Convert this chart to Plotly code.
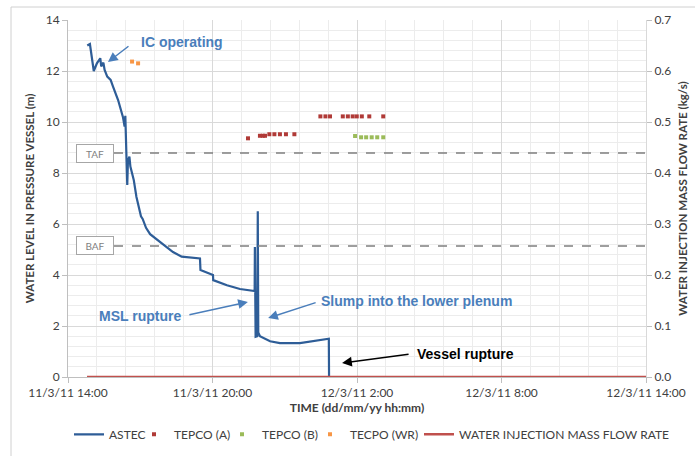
import plotly.graph_objects as go
import pandas as pd

BASE = pd.Timestamp("2011-03-11 14:00")

# ASTEC water level (hours after 11/3/11 14:00, m)
astec_h = [0.80, 0.91, 1.07, 1.20, 1.34, 1.38, 1.47, 1.52, 1.63, 1.77, 1.87, 2.08, 2.28, 2.35, 2.38,
           2.40, 2.44, 2.46, 2.49, 2.55, 2.59, 2.73, 2.84, 2.99, 3.03, 3.10, 3.24, 3.41, 3.61, 3.95,
           4.15, 4.36, 4.72, 5.48, 5.50, 6.02, 6.03, 6.60, 7.14, 7.64, 7.75, 7.76, 7.79, 7.86, 7.88,
           7.90, 7.97, 8.39, 8.80, 9.63, 10.47, 10.83, 10.84]
astec_lvl = [13.0, 13.06, 12.0, 12.3, 12.5, 12.18, 12.33, 12.04, 11.78, 11.65, 11.39, 10.86, 10.2, 9.82, 10.24,
             9.55, 8.77, 7.53, 8.5, 8.64, 8.25, 7.73, 7.07, 6.45, 6.3, 6.2, 5.85, 5.6, 5.45, 5.2,
             5.05, 4.9, 4.72, 4.65, 4.2, 4.0, 3.8, 3.6, 3.45, 3.37, 3.37, 5.1, 1.58, 1.6, 6.5,
             1.75, 1.6, 1.4, 1.33, 1.33, 1.45, 1.5, 0.0]

tepco_a_h = [7.475, 7.97, 8.09, 8.18, 8.36, 8.57, 8.80, 9.05, 9.40,
             10.48, 10.69, 10.88, 11.41, 11.62, 11.82, 11.99, 12.20, 12.51, 13.09]
tepco_a_lvl = [9.36, 9.46, 9.46, 9.46, 9.52, 9.52, 9.52, 9.52, 9.52,
               10.22, 10.22, 10.22, 10.22, 10.22, 10.22, 10.22, 10.22, 10.22, 10.22]

tepco_b_h = [11.92, 12.17, 12.38, 12.61, 12.84, 13.09]
tepco_b_lvl = [9.45, 9.40, 9.40, 9.40, 9.40, 9.40]

tepco_wr_h = [2.66, 2.91]
tepco_wr_lvl = [12.37, 12.30]

inj_h = [0.79, 24.0]
inj_flow = [0.0, 0.0]

TAF = 8.78
BAF = 5.14

x_range_h = [0, 24]
tick_dtick_h = 6
minor_dtick_h = 1.2

def t(hours):
    return [BASE + pd.Timedelta(hours=h) for h in hours]

BLUE = "#2e5d97"
ANN_BLUE = "#4a7ebb"
FONT = "Lato, Liberation Sans, Arial"
TXT = "#404040"

fig = go.Figure()
fig.add_trace(go.Scatter(x=t(astec_h), y=astec_lvl, mode="lines", name="ASTEC", legendwidth=20,
                         line=dict(color=BLUE, width=2.2)))
fig.add_trace(go.Scatter(x=t(tepco_a_h), y=tepco_a_lvl, mode="markers", name="TEPCO (A)", legendwidth=43,
                         marker=dict(symbol="square", size=4, color="#b03a37")))
fig.add_trace(go.Scatter(x=t(tepco_b_h), y=tepco_b_lvl, mode="markers", name="TEPCO (B)", legendwidth=43,
                         marker=dict(symbol="square", size=4, color="#9bbb59")))
fig.add_trace(go.Scatter(x=t(tepco_wr_h), y=tepco_wr_lvl, mode="markers", name="TECPO (WR)", legendwidth=64,
                         marker=dict(symbol="square", size=4, color="#f79646")))
fig.add_trace(go.Scatter(x=t(inj_h), y=inj_flow, mode="lines", name="WATER INJECTION MASS FLOW RATE",
                         legendwidth=212, line=dict(color="#c0504d", width=2.5), yaxis="y2"))

x0 = (114 - 68) / 578
for lvl, lab in [(TAF, "TAF"), (BAF, "BAF")]:
    fig.add_shape(type="line", xref="paper", yref="y", x0=x0, x1=1, y0=lvl, y1=lvl,
                  line=dict(color="#7f7f7f", width=1.5, dash="dash"))
    fig.add_annotation(xref="paper", yref="y", x=(94.5 - 68) / 578, y=lvl, text=lab,
                       xanchor="center", yanchor="middle",
                       showarrow=False, width=34, height=15, borderpad=1, borderwidth=1,
                       bordercolor="#a6a6a6", bgcolor="white",
                       font=dict(family=FONT, size=10, color="#7f7f7f"))

# outer chart border
fig.add_shape(type="rect", xref="paper", yref="paper",
              x0=(11 - 68) / 578, x1=(700 - 68) / 578, y0=(377 - 470) / 357, y1=(377 - 7) / 357,
              line=dict(color="#d0d0d0", width=1), layer="below")

def arrow(h, lvl, ax, ay, color):
    fig.add_annotation(x=BASE + pd.Timedelta(hours=h), y=lvl, ax=ax, ay=ay, text="",
                       showarrow=True, arrowhead=2, arrowsize=1.3, arrowwidth=1.5,
                       arrowcolor=color)

def label(h, lvl, text, color, bold=True):
    fig.add_annotation(x=BASE + pd.Timedelta(hours=h), y=lvl, text=(f"<b>{text}</b>" if bold else text),
                       showarrow=False, font=dict(family="Liberation Sans, Arial", size=14, color=color))

arrow(1.66, 12.35, 22, -17, ANN_BLUE)
label(4.73, 13.14, "IC operating", ANN_BLUE)
arrow(7.47, 2.94, -60, 13, ANN_BLUE)
label(2.99, 2.39, "MSL rupture", ANN_BLUE)
arrow(8.31, 2.31, 49, -16, ANN_BLUE)
label(14.45, 2.98, "Slump into the lower plenum", ANN_BLUE)
arrow(11.38, 0.55, 68, -9, "black")
label(16.49, 0.90, "Vessel rupture", "black")

fig.update_layout(
    width=695, height=456,
    margin=dict(l=68, r=49, t=20, b=79, autoexpand=False),
    paper_bgcolor="white", plot_bgcolor="white",
    font=dict(family=FONT, size=12, color=TXT),
    showlegend=True,
    legend=dict(orientation="h", x=(676 - 68) / 578, xanchor="right", y=-0.12, yanchor="top",
                font=dict(family=FONT, size=12, color=TXT), itemwidth=30,
                tracegroupgap=0, bgcolor="rgba(0,0,0,0)"),
    xaxis=dict(
        type="date", automargin=False,
        range=[BASE + pd.Timedelta(hours=x_range_h[0]), BASE + pd.Timedelta(hours=x_range_h[1])],
        tick0=BASE, dtick=tick_dtick_h * 3600 * 1000,
        tickformat="%-d/%-m/%y %-H:%M",
        showgrid=True, gridcolor="#d9d9d9", gridwidth=1,
        minor=dict(dtick=minor_dtick_h * 3600 * 1000, tick0=BASE, showgrid=True, gridcolor="#ececec"),
        ticks="outside", ticklen=5, tickcolor="#bfbfbf",
        showline=True, linecolor="#bfbfbf", zeroline=False,
        title=dict(text="<b>TIME (dd/mm/yy hh:mm)</b>", font=dict(size=12, color=TXT), standoff=4),
        tickfont=dict(size=12, color=TXT),
    ),
    yaxis=dict(
        range=[0, 14], dtick=2, tick0=0, automargin=False,
        showgrid=True, gridcolor="#d9d9d9", gridwidth=1,
        minor=dict(dtick=0.4, showgrid=True, gridcolor="#ececec"),
        ticks="outside", ticklen=5, tickcolor="#bfbfbf",
        showline=True, linecolor="#bfbfbf", zeroline=False,
        title=dict(text="<b>WATER LEVEL IN PRESSURE VESSEL (m)</b>", font=dict(size=11.5, color=TXT), standoff=8),
        tickfont=dict(size=12, color=TXT),
    ),
    yaxis2=dict(
        overlaying="y", side="right", range=[0, 0.7], dtick=0.1, tick0=0, tickformat=".1f",
        automargin=False,
        showgrid=False, ticks="outside", ticklen=5, tickcolor="#bfbfbf",
        showline=True, linecolor="#d9d9d9", zeroline=False,
        title=dict(text="<b>WATER INJECTION MASS FLOW RATE (kg/s)</b>", font=dict(size=11.5, color=TXT), standoff=8),
        tickfont=dict(size=12, color=TXT),
    ),
)

fig.write_html("out.html")
